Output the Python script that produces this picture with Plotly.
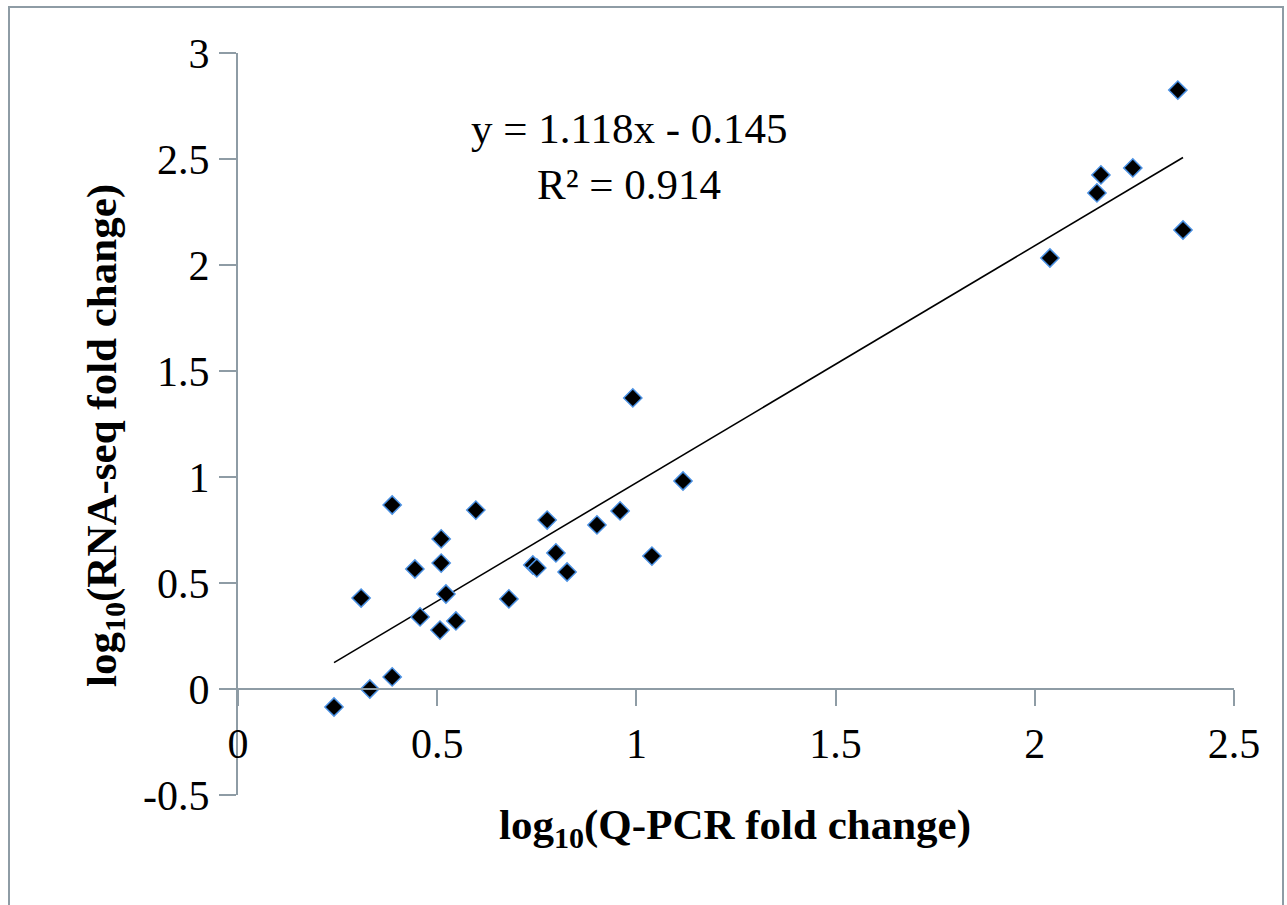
import plotly.graph_objects as go

# Data (log10 Q-PCR fold change vs log10 RNA-seq fold change)
qpcr = [0.241, 0.331, 0.387, 0.309, 0.387, 0.444, 0.457, 0.510, 0.510, 0.522,
        0.507, 0.547, 0.597, 0.680, 0.740, 0.750, 0.776, 0.798, 0.826, 0.901,
        0.959, 0.991, 1.039, 1.117, 2.038, 2.156, 2.166, 2.246, 2.359, 2.372]
rnaseq = [-0.085, 0.000, 0.057, 0.429, 0.868, 0.566, 0.340, 0.708, 0.594, 0.448,
          0.278, 0.321, 0.844, 0.425, 0.585, 0.571, 0.797, 0.642, 0.552, 0.774,
          0.840, 1.373, 0.627, 0.981, 2.033, 2.340, 2.425, 2.458, 2.825, 2.165]

slope = 1.118
intercept = -0.145
r_squared = 0.914

x_ticks = [0, 0.5, 1, 1.5, 2, 2.5]
y_ticks = [-0.5, 0, 0.5, 1, 1.5, 2, 2.5, 3]

AXIS = "#8E9CA5"
FONT = "Liberation Serif, Times New Roman, serif"

fig = go.Figure()

# trendline over the data's x span
x_min, x_max = min(qpcr), max(qpcr)
fig.add_trace(go.Scatter(
    x=[x_min, x_max],
    y=[slope * x_min + intercept, slope * x_max + intercept],
    mode="lines", line=dict(color="black", width=1.6),
    hoverinfo="skip", showlegend=False))

fig.add_trace(go.Scatter(
    x=qpcr, y=rnaseq, mode="markers",
    marker=dict(symbol="diamond", size=14, color="black",
                line=dict(color="#4A90E2", width=1.5)),
    showlegend=False))

fig.update_layout(
    width=1287, height=905,
    margin=dict(l=238, r=53, t=53, b=110),
    paper_bgcolor="white", plot_bgcolor="white",
    font=dict(family=FONT, color="black", size=42),
    xaxis=dict(
        range=[0, 2.5], tickvals=x_ticks, ticktext=[f"{v:g}" for v in x_ticks],
        anchor="free", position=0.5 / 3.5,
        showline=True, linecolor=AXIS, linewidth=2,
        ticks="outside", ticklen=16, tickwidth=2, tickcolor=AXIS,
        showgrid=False, zeroline=False,
        tickfont=dict(family=FONT, size=42, color="black"),
        ticklabelstandoff=2,
    ),
    yaxis=dict(
        range=[-0.5, 3], tickvals=y_ticks, ticktext=[f"{v:g}" for v in y_ticks],
        showline=True, linecolor=AXIS, linewidth=2,
        ticks="outside", ticklen=17, tickwidth=2, tickcolor=AXIS,
        showgrid=False, zeroline=False,
        tickfont=dict(family=FONT, size=42, color="black"),
        ticklabelstandoff=1,
    ),
    shapes=[dict(type="rect", xref="paper", yref="paper",
                 x0=(9 - 238) / 996, x1=(1283 - 238) / 996,
                 y0=(795 - 915) / 742, y1=(795 - 7) / 742,
                 line=dict(color="#8E9CA5", width=2), fillcolor="rgba(0,0,0,0)",
                 layer="below")],
    annotations=[
        dict(x=0.981, y=2.642, xref="x", yref="y", showarrow=False,
             text=f"y = {slope}x - {abs(intercept)}",
             font=dict(family=FONT, size=43, color="black"),
             xanchor="center", yanchor="middle"),
        dict(x=0.981, y=2.382, xref="x", yref="y", showarrow=False,
             text=f"R² = {r_squared}",
             font=dict(family=FONT, size=43, color="black"),
             xanchor="center", yanchor="middle"),
        dict(x=0.499, y=(795 - 828) / 742, xref="paper", yref="paper", showarrow=False,
             text="<b>log<sub>10</sub>(Q-PCR fold change)</b>",
             font=dict(family=FONT, size=43, color="black"),
             xanchor="center", yanchor="middle"),
        dict(x=(105 - 238) / 996, y=(795 - 436) / 742, xref="paper", yref="paper",
             showarrow=False, textangle=-90,
             text="<b>log<sub>10</sub>(RNA-seq fold change)</b>",
             font=dict(family=FONT, size=43, color="black"),
             xanchor="center", yanchor="middle"),
    ],
)

fig.write_html("out.html")
